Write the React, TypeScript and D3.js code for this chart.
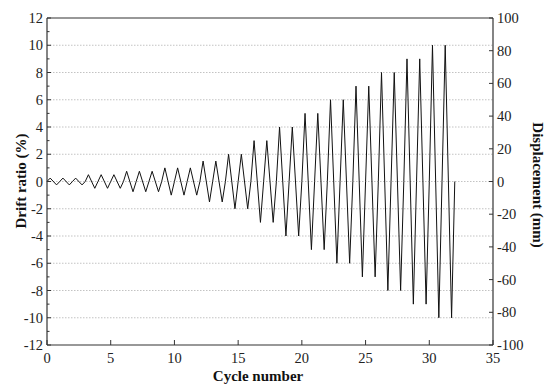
import React from "react";
import * as d3 from "d3";

const cycleAmplitudes = [
  0.25, 0.25, 0.25, 0.5, 0.5, 0.5, 0.75, 0.75, 0.75, 1, 1, 1, 1.5, 1.5, 2, 2,
  3, 3, 4, 4, 5, 5, 6, 6, 7, 7, 8, 8, 9, 9, 10, 10,
];
const xTicks = [0, 5, 10, 15, 20, 25, 30, 35];
const leftTicks = [-12, -10, -8, -6, -4, -2, 0, 2, 4, 6, 8, 10, 12];
const leftMinor = [-11, -9, -7, -5, -3, -1, 1, 3, 5, 7, 9, 11];
const rightTicks = [-100, -80, -60, -40, -20, 0, 20, 40, 60, 80, 100];
const gridValues = [-10, -8, -6, -4, -2, 0, 2, 4, 6, 8, 10];
const xLabel = "Cycle number";
const leftLabel = "Drift ratio (%)";
const rightLabel = "Displacement (mm)";

const W = 547, H = 390;
const L = 47, R = 493, T = 18, B = 345;

export default function App() {
  const x = d3.scaleLinear().domain([0, 35]).range([L, R]);
  const y = d3.scaleLinear().domain([-12, 12]).range([B, T]);
  const y2 = d3.scaleLinear().domain([-100, 100]).range([B, T]);

  const pts: [number, number][] = [];
  cycleAmplitudes.forEach((a, i) => {
    pts.push([i, 0]);
    pts.push([i + 0.25, a]);
    pts.push([i + 0.75, -a]);
  });
  pts.push([cycleAmplitudes.length, 0]);

  const line = d3
    .line<[number, number]>()
    .x((d) => x(d[0]))
    .y((d) => y(d[1]));

  const font = "'Liberation Serif', 'Times New Roman', serif";
  const axisColor = "#333";
  const tickFont = 14.5;

  return (
    <svg
      width={W}
      height={H}
      style={{ position: "absolute", left: 0, top: 0, background: "#fff" }}
      fontFamily={font}
    >
      <rect x={0} y={0} width={W} height={H} fill="#fff" />
      {gridValues.map((v) => (
        <line
          key={"g" + v}
          x1={L}
          x2={R}
          y1={y(v)}
          y2={y(v)}
          stroke="#bcbcbc"
          strokeWidth={0.9}
          strokeDasharray="1.5,1.5"
        />
      ))}
      <path d={line(pts) || ""} fill="none" stroke="#111" strokeWidth={1} />
      <line x1={L} x2={R} y1={T} y2={T} stroke={axisColor} strokeWidth={1.2} />
      <line x1={L} x2={R} y1={B} y2={B} stroke={axisColor} strokeWidth={1.2} />
      <line x1={L} x2={L} y1={T} y2={B} stroke={axisColor} strokeWidth={1.2} />
      <line x1={R} x2={R} y1={T} y2={B} stroke={axisColor} strokeWidth={1.2} />
      {leftTicks.map((v) => (
        <g key={"l" + v}>
          <line x1={L} x2={L + 4} y1={y(v)} y2={y(v)} stroke={axisColor} strokeWidth={1} />
          <text x={L - 4} y={y(v)} dy="0.35em" textAnchor="end" fontSize={tickFont} fill="#222">
            {v}
          </text>
        </g>
      ))}
      {leftMinor.map((v) => (
        <line key={"lm" + v} x1={L} x2={L + 2.5} y1={y(v)} y2={y(v)} stroke={axisColor} strokeWidth={1} />
      ))}
      {rightTicks.map((v) => (
        <g key={"r" + v}>
          <line x1={R} x2={R - 4} y1={y2(v)} y2={y2(v)} stroke={axisColor} strokeWidth={1} />
          <text x={R + 4} y={y2(v)} dy="0.35em" textAnchor="start" fontSize={tickFont} fill="#222">
            {v}
          </text>
        </g>
      ))}
      {xTicks.map((v) => (
        <g key={"x" + v}>
          <line x1={x(v)} x2={x(v)} y1={B} y2={B - 5} stroke={axisColor} strokeWidth={1} />
          <text x={x(v)} y={363} textAnchor="middle" fontSize={tickFont} fill="#222">
            {v}
          </text>
        </g>
      ))}
      <text x={258} y={381} textAnchor="middle" fontSize={15} fontWeight="bold" fill="#111">
        {xLabel}
      </text>
      <text
        transform={`translate(26,181) rotate(-90)`}
        textAnchor="middle"
        fontSize={15}
        fontWeight="bold"
        fill="#111"
      >
        {leftLabel}
      </text>
      <text
        transform={`translate(533,185) rotate(90)`}
        textAnchor="middle"
        fontSize={15}
        fontWeight="bold"
        fill="#111"
      >
        {rightLabel}
      </text>
    </svg>
  );
}
